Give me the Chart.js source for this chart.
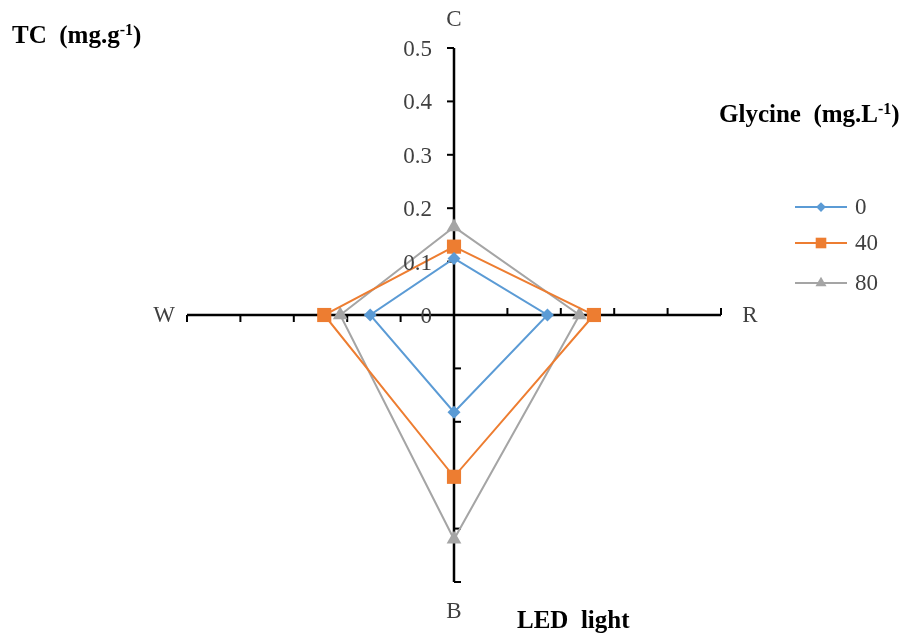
<!DOCTYPE html>
<html>
<head>
<meta charset="utf-8">
<script src="https://cdn.jsdelivr.net/npm/chart.js@4"></script>
<style>
  body { margin: 0; background: #fff; }
  #wrap { position: relative; width: 904px; height: 634px; }
  canvas { position: absolute; left: 0; top: 0; }
  .ttl { position: absolute; font-family: "Liberation Serif", "DejaVu Serif", serif; font-weight: bold; font-size: 25px; color: #000; white-space: pre; line-height: 1; }
  .ttl sup { font-size: 16px; vertical-align: 8px; line-height: 0; }
</style>
</head>
<body>
<div id="wrap">
  <canvas id="myChart" width="904" height="634"></canvas>
  <div class="ttl" style="left:12px; top:22px;">TC  (mg.g<sup>-1</sup>)</div>
  <div class="ttl" style="left:719px; top:101px;">Glycine  (mg.L<sup>-1</sup>)</div>
  <div class="ttl" style="left:517px; top:607px;">LED  light</div>
</div>
<script>
// spokes, clockwise from the top
const labels = ['C', 'R', 'B', 'W'];
const seriesNames = ['0', '40', '80'];
const g0 = [0.106, 0.175, 0.182, 0.157];
const g40 = [0.128, 0.262, 0.303, 0.243];
const g80 = [0.165, 0.235, 0.42, 0.213];
const tickValues = [0, 0.1, 0.2, 0.3, 0.4, 0.5];
const tickLabels = ['0', '0.1', '0.2', '0.3', '0.4', '0.5'];

const colors = ['#5B9BD5', '#ED7D31', '#A5A5A5'];
const markers = ['rectRot', 'rect', 'triangle'];
const markerSize = [6.5, 10, 8.5];
const serif = '"Liberation Serif", "DejaVu Serif", serif';

// ticks across each spoke, tick labels on the top spoke, spoke names, legend
const decor = {
  id: 'decor',
  beforeDatasetsDraw(chart) {
    const sc = chart.scales.r;
    const ctx = chart.ctx;
    ctx.save();
    ctx.strokeStyle = '#000';
    ctx.lineWidth = 2;
    for (let i = 0; i < labels.length; i++) {
      for (let k = 1; k < tickValues.length; k++) {
        const p = sc.getPointPositionForValue(i, tickValues[k]);
        let ux = p.x - sc.xCenter, uy = p.y - sc.yCenter;
        const len = Math.hypot(ux, uy);
        ux /= len; uy /= len;
        // tick goes to the counter-clockwise side of the spoke
        const px = uy, py = -ux;
        ctx.beginPath();
        ctx.moveTo(p.x, p.y);
        ctx.lineTo(p.x + px * 7, p.y + py * 7);
        ctx.stroke();
      }
    }
    ctx.restore();
  },
  afterDraw(chart) {
    const sc = chart.scales.r;
    const ctx = chart.ctx;
    ctx.save();
    ctx.fillStyle = '#404040';
    ctx.font = '23px ' + serif;
    ctx.textAlign = 'right';
    ctx.textBaseline = 'middle';
    tickValues.forEach((v, k) => {
      const p = sc.getPointPositionForValue(0, v);
      ctx.fillText(tickLabels[k], p.x - 22, p.y + 2);
    });
    ctx.textAlign = 'center';
    labels.forEach((lb, i) => {
      const p = sc.getPointPositionForValue(i, 0.554);
      ctx.fillText(lb, p.x + (i === 3 ? 6 : 0), p.y + 1);
    });

    // legend
    const ys = [207, 243, 283];
    chart.data.datasets.forEach((ds, j) => {
      ctx.strokeStyle = ds.borderColor;
      ctx.lineWidth = 2;
      ctx.beginPath();
      ctx.moveTo(795, ys[j]);
      ctx.lineTo(847, ys[j]);
      ctx.stroke();
      ctx.fillStyle = ds.borderColor;
      Chart.helpers.drawPoint(ctx, {
        pointStyle: ds.pointStyle, radius: ds.pointRadius * 0.75, borderWidth: 0
      }, 821, ys[j]);
      ctx.fillStyle = '#404040';
      ctx.textAlign = 'left';
      ctx.fillText(ds.label, 855, ys[j] + 1);
    });
    ctx.restore();
  }
};

const series = [g0, g40, g80];
const ctx1 = document.getElementById('myChart').getContext('2d');
new Chart(ctx1, {
  type: 'radar',
  data: {
    labels: labels,
    datasets: series.map((d, j) => ({
      label: seriesNames[j],
      data: d,
      borderColor: colors[j],
      backgroundColor: colors[j],
      pointBackgroundColor: colors[j],
      pointBorderColor: colors[j],
      pointBorderWidth: 0,
      pointStyle: markers[j],
      pointRadius: markerSize[j],
      borderWidth: 2,
      fill: false,
      tension: 0
    }))
  },
  options: {
    responsive: false,
    animation: false,
    layout: { padding: { left: 187, right: 183, top: 48, bottom: 52 } },
    plugins: { legend: { display: false }, tooltip: { enabled: false } },
    scales: {
      r: {
        min: 0,
        max: 0.5,
        ticks: { stepSize: 0.1, display: false },
        grid: { display: false },
        angleLines: { display: true, color: '#000', lineWidth: 2.5 },
        pointLabels: { display: false }
      }
    }
  },
  plugins: [decor]
});
</script>
</body>
</html>
